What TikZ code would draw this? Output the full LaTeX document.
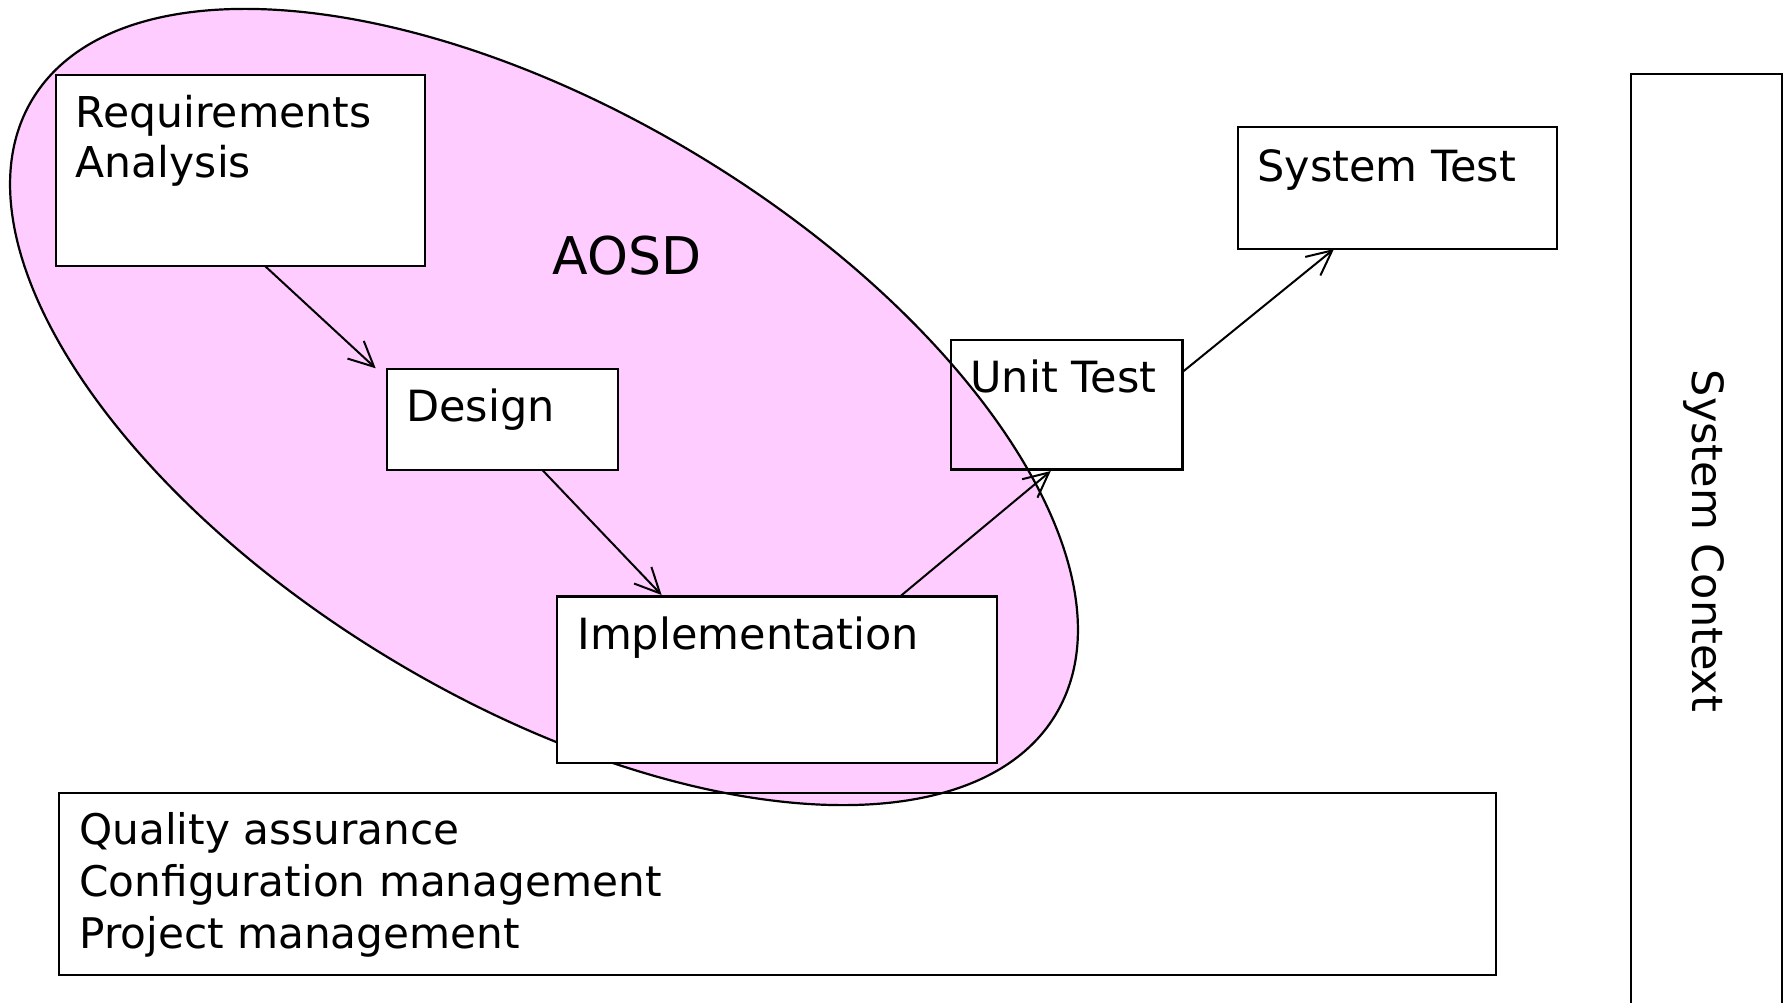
\documentclass[tikz,border=0pt]{standalone}
\usepackage{fontspec}
\setmainfont{DejaVu Sans}
\usetikzlibrary{arrows.meta,fit,calc}
\definecolor{aosdpink}{RGB}{255,204,255}
\begin{document}
\begin{tikzpicture}[x=0.5pt,y=-0.5pt,
  box/.style={draw, line width=1.1pt, inner sep=0pt, outer sep=0pt},
  wbox/.style={box, fill=white},
  txt/.style={anchor=base west, inner sep=0pt, align=left, font=\fontsize{21.5pt}{25.5pt}\selectfont},
  flow/.style={line width=1pt, -{Straight Barb[length=12.5pt,width=12pt]}}]
\clip (0,0) rectangle (1789,1002);
\fill[white] (0,0) rectangle (1789,1002);
% AOSD ellipse
\coordinate (ec) at (544,407);
\draw[line width=1.1pt, fill=aosdpink, rotate around={-31:(ec)}] (ec) ellipse [x radius=298.5pt, y radius=147.5pt];
% boxes
\node[wbox, fit={(56,75) (425,266)}] (req) {};
\node[wbox, fit={(386.7,369.3) (618,470)}] (des) {};
\node[wbox, fit={(557,596.5) (997,763)}] (impl) {};
\node[box, fit={(951,340) (1182.5,469.5)}] (unit) {};
\node[box, fit={(1238,127) (1557,249)}] (sys) {};
\node[box, fit={(59,793) (1496,975)}] (qual) {};
\node[box, fit={(1631,74) (1782,1020)}] (ctx) {};
% texts (multi-line nodes: base = last line)
\node[txt, font=\fontsize{21.25pt}{25pt}\selectfont] (reqT) at (75.5,177) {Requirements\\Analysis};
\node[txt] (desT) at (406,421) {Design};
\node[txt, font=\fontsize{26pt}{30pt}\selectfont] (aosdT) at (552,274) {AOSD};
\node[txt] (implT) at (577,649) {Implementation};
\node[txt] (unitT) at (970,392) {Unit Test};
\node[txt] (sysT) at (1257,181) {System Test};
\node[txt, font=\fontsize{21.1pt}{25.85pt}\selectfont] (qualT) at (79,948) {Quality assurance\\Configuration management\\Project management};
\node[font=\fontsize{21.5pt}{25.5pt}\selectfont, rotate=-90, anchor=base, inner sep=0pt] (ctxT) at (1692,541) {System Context};
% connectors
\draw[flow] ($(req.south)+(24.5,0)$) -- ($(des.north west)+(-11,-1)$);
\draw[flow] ($(des.south)+(40,0)$) -- ($(impl.north west)+(104.6,-1.5)$);
\draw[flow] ($(impl.north east)+(-97,0)$) -- ($(unit.south)+(-16,1.5)$);
\draw[flow] ($(unit.north east)+(0,32)$) -- ($(sys.south west)+(96,0)$);
\end{tikzpicture}
\end{document}
